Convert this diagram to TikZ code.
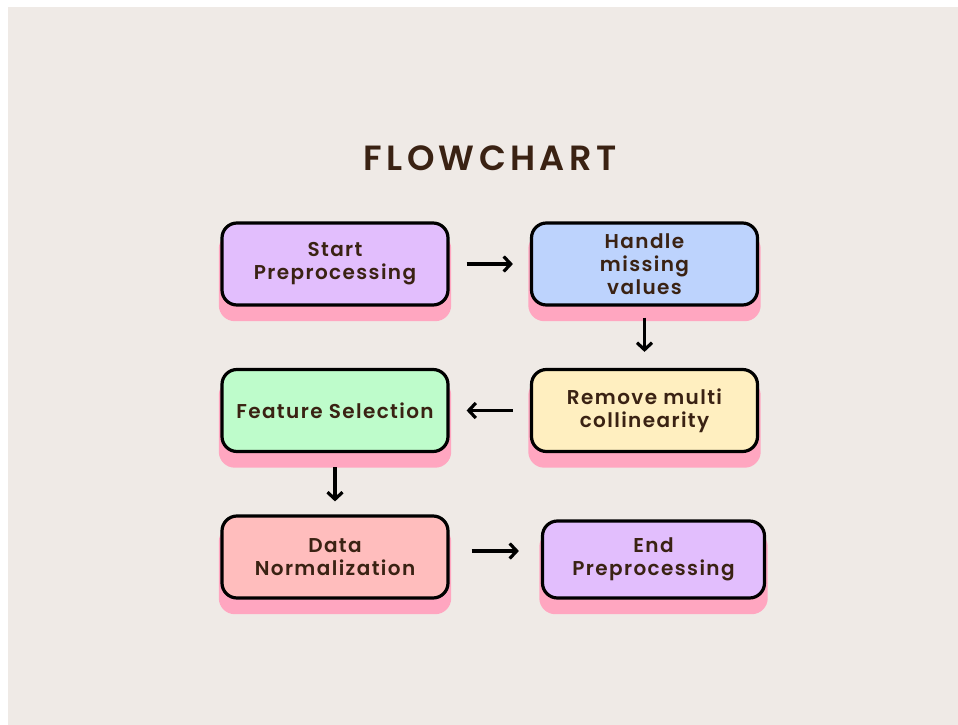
\documentclass[tikz,border=0pt]{standalone}
\usepackage{fontspec}
\usetikzlibrary{arrows.meta,backgrounds}
\newfontfamily\boxfont{Poppins SemiBold}[LetterSpace=7]
\newfontfamily\titlefont{Poppins SemiBold}[LetterSpace=12.5]
\definecolor{bgbeige}{HTML}{EFEAE6}
\definecolor{txtbrown}{HTML}{3A2213}
\definecolor{shpink}{HTML}{FFA6C0}
\definecolor{cpurple}{HTML}{E2BEFD}
\definecolor{cblue}{HTML}{BDD3FD}
\definecolor{cyellow}{HTML}{FFEFC0}
\definecolor{cgreen}{HTML}{BEFCCB}
\definecolor{cred}{HTML}{FFBDBD}
\tikzset{
  flowbox/.style={draw=black, line width=3.2pt, rounded corners=15pt,
    minimum width=226pt, minimum height=82pt, align=center, inner sep=0pt,
    text=txtbrown, font=\boxfont\fontsize{20}{23}\selectfont},
  arr/.style={draw=black, line width=3.2pt,
    -{Straight Barb[length=7pt,width=15pt,line width=3.2pt]}},
}
\newcommand{\boxshadow}[1]{%
  \fill[shpink, rounded corners=16pt]
    ([xshift=-1.6pt,yshift=-14.6pt]#1.south west) rectangle
    ([xshift=1.6pt,yshift=-11.4pt]#1.north east);}
\begin{document}
\begin{tikzpicture}[x=1pt,y=-1pt]
\useasboundingbox (0,0) rectangle (958,725);
\node[txtbrown, font=\titlefont\fontsize{35}{40}\selectfont, anchor=base] (title) at (490,170) {FLOWCHART};
\node[flowbox, fill=cpurple] (b1) at (335,264) {Start\\Preprocessing};
\node[flowbox, fill=cblue] (b2) at (644.5,264) {Handle\\missing\\values};
\node[flowbox, fill=cyellow] (b3) at (644.5,410.5) {Remove multi\\collinearity};
\node[flowbox, fill=cgreen] (b4) at (335,410.5) {Feature Selection};
\node[flowbox, fill=cred] (b5) at (335,557) {Data\\Normalization};
\node[flowbox, fill=cpurple, minimum width=222pt, minimum height=77pt] (b6) at (653.5,559.5) {End\\Preprocessing};
\begin{pgfonlayer}{background}
\fill[bgbeige] (8,7) rectangle (958,725);
\boxshadow{b1}\boxshadow{b2}\boxshadow{b3}\boxshadow{b4}\boxshadow{b5}\boxshadow{b6}
\end{pgfonlayer}
\draw[arr, shorten <=17pt, shorten >=17pt] (b1.east) -- (b2.west);
\draw[arr, shorten <=11pt, shorten >=16pt] (b2.south) -- (b3.north);
\draw[arr, shorten <=17pt, shorten >=17pt] (b3.west) -- (b4.east);
\draw[arr, shorten <=14pt, shorten >=13pt] (b4.south) -- (b5.north);
\draw[arr, shorten <=22pt, shorten >=22pt] ([yshift=6pt]b5.east) -- ([yshift=6pt]b5.east -| b6.west);
\end{tikzpicture}
\end{document}
